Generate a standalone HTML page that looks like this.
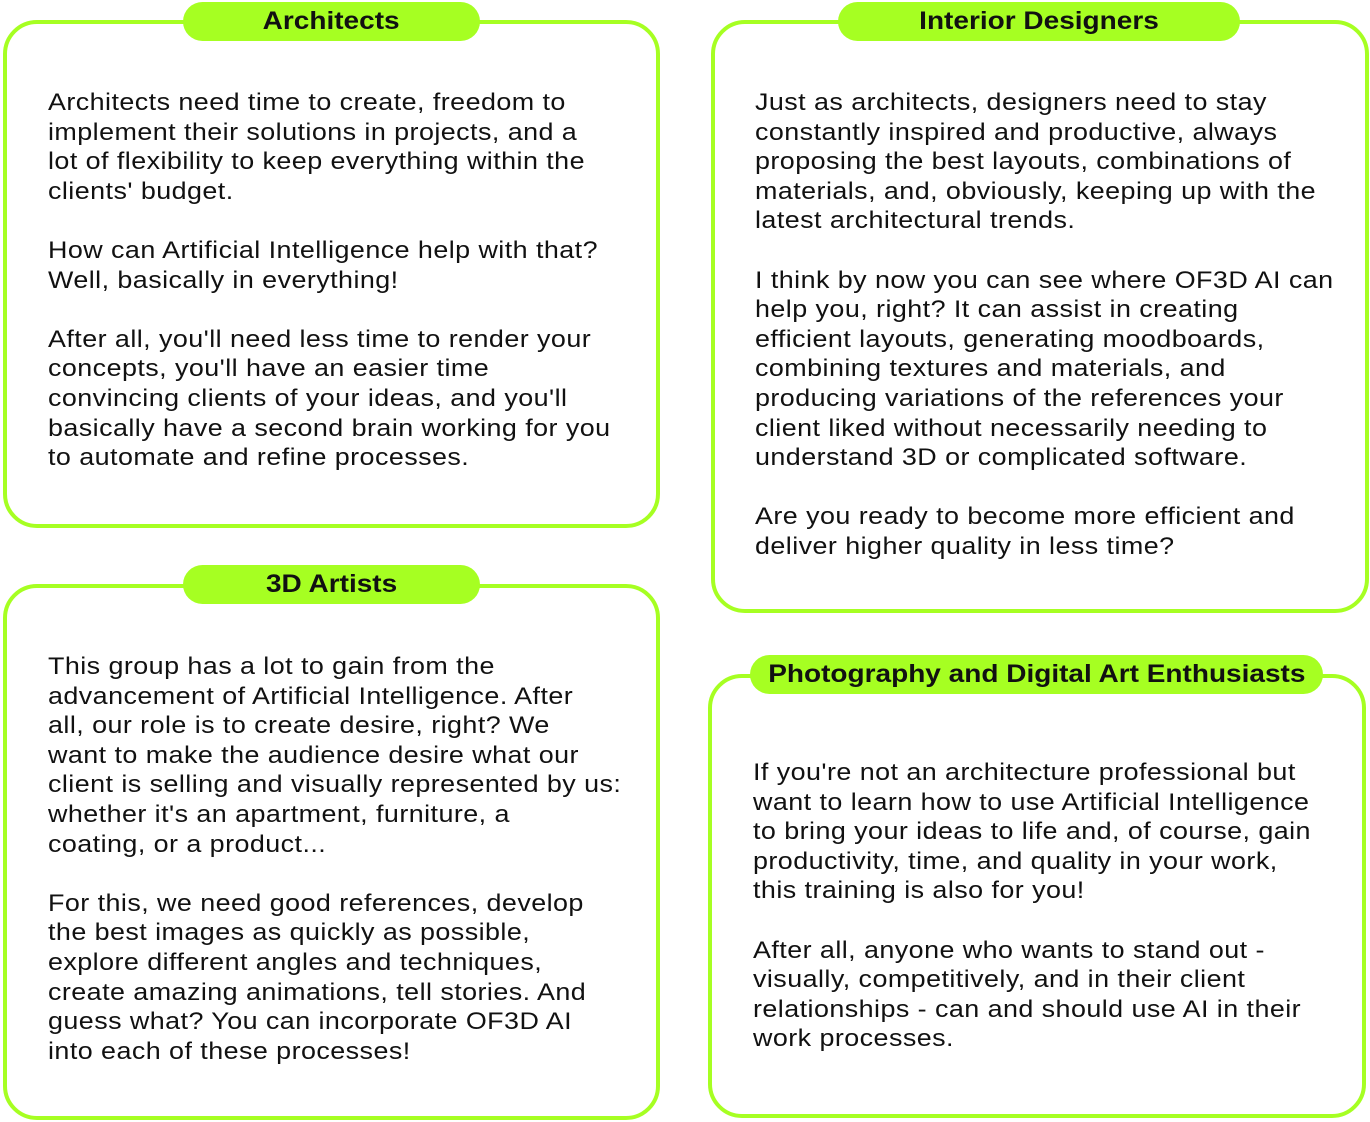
<!DOCTYPE html>
<html><head><meta charset="utf-8"><style>
body{margin:0;width:1370px;height:1122px;background:#fff;position:relative;overflow:hidden;font-family:"Liberation Sans",sans-serif;color:#111;}
.box{position:absolute;border:4px solid #a6ff22;border-radius:34px;box-sizing:border-box;}
.pill{position:absolute;background:#a6ff22;border-radius:20px;height:39px;box-sizing:border-box;text-align:center;font-weight:bold;font-size:25px;line-height:39px;color:#111;}
.pill span{display:inline-block;transform:scaleX(1.12);}
.t{position:absolute;font-size:24px;line-height:29.6px;white-space:pre;letter-spacing:0.4px;transform:scaleX(1.12);transform-origin:0 0;}
</style></head><body>
<div class="box" style="left:3px;top:20px;width:657px;height:508px"></div>
<div class="pill" style="left:183px;top:2px;width:297px"><span>Architects</span></div>
<div class="t" style="left:48px;top:88px">Architects need time to create, freedom to
implement their solutions in projects, and a
lot of flexibility to keep everything within the
clients' budget.

How can Artificial Intelligence help with that?
Well, basically in everything!

After all, you'll need less time to render your
concepts, you'll have an easier time
convincing clients of your ideas, and you'll
basically have a second brain working for you
to automate and refine processes.</div>

<div class="box" style="left:711px;top:20px;width:658px;height:593px"></div>
<div class="pill" style="left:838px;top:2px;width:402px"><span>Interior Designers</span></div>
<div class="t" style="left:755px;top:88px">Just as architects, designers need to stay
constantly inspired and productive, always
proposing the best layouts, combinations of
materials, and, obviously, keeping up with the
latest architectural trends.

I think by now you can see where OF3D AI can
help you, right? It can assist in creating
efficient layouts, generating moodboards,
combining textures and materials, and
producing variations of the references your
client liked without necessarily needing to
understand 3D or complicated software.

Are you ready to become more efficient and
deliver higher quality in less time?</div>

<div class="box" style="left:3px;top:584px;width:657px;height:536px"></div>
<div class="pill" style="left:183px;top:565px;width:297px"><span>3D Artists</span></div>
<div class="t" style="left:48px;top:652px">This group has a lot to gain from the
advancement of Artificial Intelligence. After
all, our role is to create desire, right? We
want to make the audience desire what our
client is selling and visually represented by us:
whether it's an apartment, furniture, a
coating, or a product...

For this, we need good references, develop
the best images as quickly as possible,
explore different angles and techniques,
create amazing animations, tell stories. And
guess what? You can incorporate OF3D AI
into each of these processes!</div>

<div class="box" style="left:708px;top:674px;width:658px;height:444px"></div>
<div class="pill" style="left:750px;top:655px;width:573px"><span>Photography and Digital Art Enthusiasts</span></div>
<div class="t" style="left:753px;top:758px">If you're not an architecture professional but
want to learn how to use Artificial Intelligence
to bring your ideas to life and, of course, gain
productivity, time, and quality in your work,
this training is also for you!

After all, anyone who wants to stand out -
visually, competitively, and in their client
relationships - can and should use AI in their
work processes.</div>
</body></html>
